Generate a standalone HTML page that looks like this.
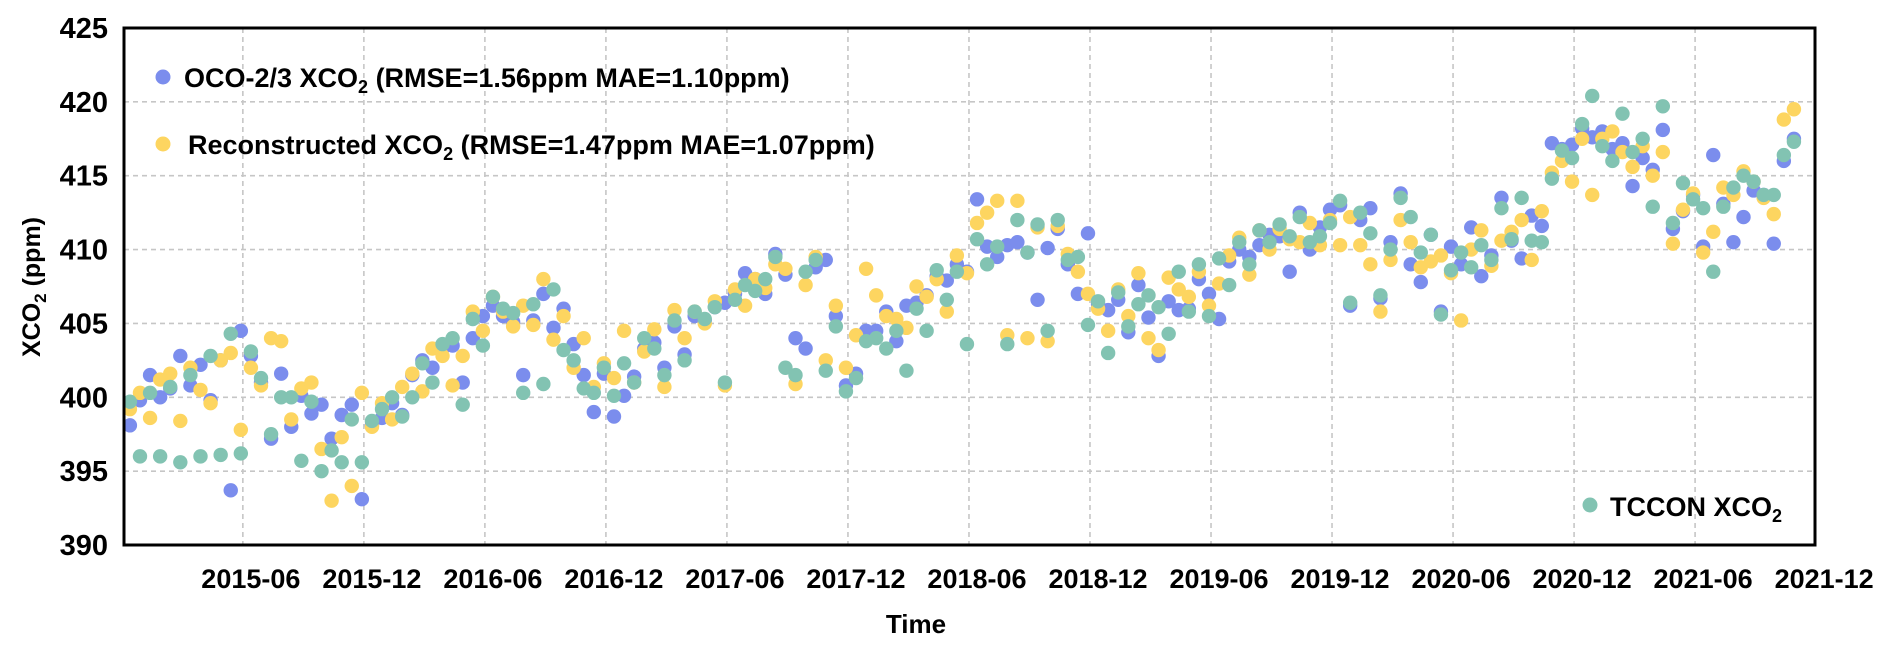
<!DOCTYPE html>
<html><head><meta charset="utf-8"><style>
html,body{margin:0;padding:0;background:#fff;}
svg{display:block;font-family:"Liberation Sans",Arial,sans-serif;font-weight:bold;}
</style></head><body>
<svg id="chart" width="1892" height="648" viewBox="0 0 1892 648">
<g id="grid"></g>
<g id="marks"></g>
<rect x="124" y="28" width="1691" height="517" fill="none" stroke="#000" stroke-width="3"/>
<g id="yticks"></g>
<g id="xticks"></g>
<text x="916" y="633" font-size="26" text-anchor="middle">Time</text>
<text transform="translate(40,287) rotate(-90)" font-size="25" text-anchor="middle">XCO<tspan font-size="17" dy="6">2</tspan><tspan dy="-6"> (ppm)</tspan></text>
<g>
<circle cx="163" cy="77" r="7.5" fill="#7b8ded"/>
<text x="184" y="87" font-size="27">OCO-2/3 XCO<tspan font-size="18" dy="6">2</tspan><tspan dy="-6"> (RMSE=1.56ppm MAE=1.10ppm)</tspan></text>
</g>
<g>
<circle cx="163" cy="144" r="7.5" fill="#fdd560"/>
<text x="188" y="154" font-size="27">Reconstructed XCO<tspan font-size="18" dy="6">2</tspan><tspan dy="-6"> (RMSE=1.47ppm MAE=1.07ppm)</tspan></text>
</g>
<g>
<circle cx="1590" cy="505" r="7.5" fill="#82c3b2"/>
<text x="1610" y="516" font-size="27">TCCON XCO<tspan font-size="18" dy="6">2</tspan></text>
</g>
</svg>
<script>
const yTicks = [390,395,400,405,410,415,420,425];
const xTickLabels = ["2015-06","2015-12","2016-06","2016-12","2017-06","2017-12","2018-06","2018-12","2019-06","2019-12","2020-06","2020-12","2021-06","2021-12"];
const xTickMonths = [5,11,17,23,29,35,41,47,53,59,65,71,77,83];
const dates = [-0.6,-0.1,0.4,0.9,1.4,1.9,2.4,2.9,3.4,3.9,4.4,4.9,5.4,5.9,6.4,6.9,7.4,7.9,8.4,8.9,9.4,9.9,10.4,10.9,11.4,11.9,12.4,12.9,13.4,13.9,14.4,14.9,15.4,15.9,16.4,16.9,17.4,17.9,18.4,18.9,19.4,19.9,20.4,20.9,21.4,21.9,22.4,22.9,23.4,23.9,24.4,24.9,25.4,25.9,26.4,26.9,27.4,27.9,28.4,28.9,29.4,29.9,30.4,30.9,31.4,31.9,32.4,32.9,33.4,33.9,34.4,34.9,35.4,35.9,36.4,36.9,37.4,37.9,38.4,38.9,39.4,39.9,40.4,40.9,41.4,41.9,42.4,42.9,43.4,43.9,44.4,44.9,45.4,45.9,46.4,46.9,47.4,47.9,48.4,48.9,49.4,49.9,50.4,50.9,51.4,51.9,52.4,52.9,53.4,53.9,54.4,54.9,55.4,55.9,56.4,56.9,57.4,57.9,58.4,58.9,59.4,59.9,60.4,60.9,61.4,61.9,62.4,62.9,63.4,63.9,64.4,64.9,65.4,65.9,66.4,66.9,67.4,67.9,68.4,68.9,69.4,69.9,70.4,70.9,71.4,71.9,72.4,72.9,73.4,73.9,74.4,74.9,75.4,75.9,76.4,76.9,77.4,77.9,78.4,78.9,79.4,79.9,80.4,80.9,81.4,81.9];
const ocoValues = [398.1,399.8,401.5,400.0,400.6,402.8,400.8,402.2,399.8,402.5,393.7,404.5,402.8,401.0,397.2,401.6,398.0,400.1,398.9,399.5,397.2,398.8,399.5,393.1,398.1,398.6,399.6,398.8,401.5,402.5,402.0,403.3,403.5,401.0,404.0,405.5,406.2,405.5,405.1,401.5,405.2,407.0,404.7,406.0,403.6,401.5,399.0,401.6,398.7,400.1,401.4,403.3,403.7,402.0,404.8,402.9,405.5,405.2,406.1,406.4,407.0,408.4,408.0,407.0,409.7,408.3,404.0,403.3,408.8,409.3,405.5,400.8,401.6,404.5,404.5,405.8,403.8,406.2,406.4,406.9,408.2,407.9,409.0,408.5,413.4,410.2,409.5,410.3,410.5,409.8,406.6,410.1,411.4,409.0,407.0,411.1,406.3,405.9,406.6,404.4,407.6,405.4,402.8,406.5,405.9,406.0,408.0,407.0,405.3,409.2,410.0,409.5,410.3,411.0,410.9,408.5,412.5,410.0,411.5,412.7,413.0,406.2,412.0,412.8,406.7,410.5,413.8,409.0,407.8,411.0,405.8,410.2,409.0,411.5,408.2,409.6,413.5,410.6,409.4,412.3,411.6,417.2,416.8,417.1,418.2,417.6,418.0,416.8,417.2,414.3,416.2,415.4,418.1,411.4,412.6,413.7,410.2,416.4,413.1,410.5,412.2,414.0,413.7,410.4,416.0,417.5];
const reconValues = [399.2,400.3,398.6,401.2,401.6,398.4,402.0,400.5,399.6,402.5,403.0,397.8,402.0,400.8,404.0,403.8,398.5,400.6,401.0,396.5,393.0,397.3,394.0,400.3,398.0,399.6,398.5,400.7,401.6,400.4,403.3,402.8,400.8,402.8,405.8,404.5,406.8,405.8,404.8,406.2,404.9,408.0,403.9,405.5,402.0,404.0,400.7,402.3,401.3,404.5,401.0,403.1,404.6,400.7,405.9,404.0,405.8,405.0,406.5,400.8,407.3,406.2,408.0,407.4,409.0,408.7,400.9,407.6,409.5,402.5,406.2,402.0,404.2,408.7,406.9,405.5,405.3,404.7,407.5,406.8,408.0,405.8,409.6,408.4,411.8,412.5,413.3,404.2,413.3,404.0,411.5,403.8,411.6,409.7,408.5,407.0,406.0,404.5,407.3,405.5,408.4,404.0,403.2,408.1,407.3,406.8,408.5,406.2,407.7,409.6,410.8,408.3,411.3,410.0,411.4,410.7,410.5,411.8,410.3,412.0,410.3,412.2,410.3,409.0,405.8,409.3,412.0,410.5,408.8,409.2,409.6,408.4,405.2,410.0,411.3,408.9,410.6,411.2,412.0,409.3,412.6,415.2,416.0,414.6,417.5,413.7,417.5,418.0,416.6,415.6,417.0,415.0,416.6,410.4,412.7,413.8,409.8,411.2,414.2,413.7,415.3,414.6,413.5,412.4,418.8,419.5];
const tcconValues = [399.7,396.0,400.3,396.0,400.7,395.6,401.5,396.0,402.8,396.1,404.3,396.2,403.1,401.3,397.5,400.0,400.0,395.7,399.7,395.0,396.4,395.6,398.5,395.6,398.4,399.2,400.0,398.7,400.0,402.3,401.0,403.6,404.0,399.5,405.3,403.5,406.8,406.0,405.7,400.3,406.3,400.9,407.3,403.2,402.5,400.6,400.3,402.0,400.1,402.3,401.0,404.0,403.3,401.5,405.2,402.5,405.8,405.3,406.1,401.0,406.6,407.6,407.2,408.0,409.5,402.0,401.5,408.5,409.3,401.8,404.8,400.4,401.3,403.8,404.0,403.3,404.5,401.8,406.0,404.5,408.6,406.6,408.5,403.6,410.7,409.0,410.2,403.6,412.0,409.8,411.7,404.5,412.0,409.3,409.5,404.9,406.5,403.0,407.1,404.8,406.3,406.9,406.1,404.3,408.5,405.8,409.0,405.5,409.4,407.6,410.5,409.0,411.3,410.5,411.7,410.9,412.2,410.5,410.9,411.8,413.3,406.4,412.5,411.1,406.9,410.0,413.5,412.2,409.8,411.0,405.6,408.6,409.8,408.8,410.3,409.3,412.8,410.7,413.5,410.6,410.5,414.8,416.7,416.2,418.5,420.4,417.0,416.0,419.2,416.6,417.5,412.9,419.7,411.8,414.5,413.4,412.8,408.5,412.9,414.2,415.0,414.6,413.7,413.7,416.4,417.3];

const NS = "http://www.w3.org/2000/svg";
const X0 = 142, PXM = 20.17, YT = 28, PXV = 517/35;
function xScale(m){ return X0 + m*PXM; }
function yScale(v){ return YT + (425 - v)*PXV; }

const grid = document.getElementById('grid');
yTicks.forEach(v => {
  if (v === 390 || v === 425) return;
  const l = document.createElementNS(NS,'line');
  l.setAttribute('x1',124); l.setAttribute('x2',1815);
  l.setAttribute('y1',yScale(v)); l.setAttribute('y2',yScale(v));
  l.setAttribute('stroke','#c6c6c6'); l.setAttribute('stroke-width','1.6'); l.setAttribute('stroke-dasharray','5,4');
  
  
  grid.appendChild(l);
});
xTickMonths.forEach(m => {
  if (m >= 83) return;
  const l = document.createElementNS(NS,'line');
  l.setAttribute('x1',xScale(m)); l.setAttribute('x2',xScale(m));
  l.setAttribute('y1',28); l.setAttribute('y2',545);
  l.setAttribute('stroke','#c6c6c6'); l.setAttribute('stroke-width','1.6'); l.setAttribute('stroke-dasharray','5,4');
  
  
  grid.appendChild(l);
});

const yt = document.getElementById('yticks');
yTicks.forEach(v => {
  const t = document.createElementNS(NS,'text');
  t.setAttribute('x',108); t.setAttribute('y',yScale(v)+10);
  t.setAttribute('font-size','29'); t.setAttribute('text-anchor','end');
  t.textContent = v;
  
  
  yt.appendChild(t);
});
const xt = document.getElementById('xticks');
xTickLabels.forEach((s,i) => {
  const t = document.createElementNS(NS,'text');
  t.setAttribute('x',xScale(xTickMonths[i])+8); t.setAttribute('y',588);
  t.setAttribute('font-size','27'); t.setAttribute('text-anchor','middle');
  t.textContent = s;
  
  
  xt.appendChild(t);
});

const marks = document.getElementById('marks');
function drawSeries(vals, color, name){
  const g = document.createElementNS(NS,'g');
  
  
  vals.forEach((v,i) => {
    const c = document.createElementNS(NS,'circle');
    c.setAttribute('cx',xScale(dates[i])); c.setAttribute('cy',yScale(v));
    c.setAttribute('r',7.2); c.setAttribute('fill',color);
    
    
    g.appendChild(c);
  });
  marks.appendChild(g);
}
drawSeries(ocoValues,'#7b8ded','oco-series');
drawSeries(reconValues,'#fdd560','reconstructed-series');
drawSeries(tcconValues,'#82c3b2','tccon-series');
</script>
</body></html>
